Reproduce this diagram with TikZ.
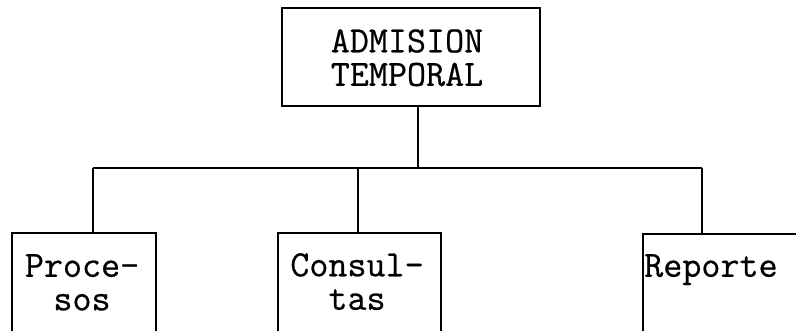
\documentclass[tikz,border=0pt]{standalone}
\usepackage{fontspec}
\newfontfamily\boxtt{Latin Modern Mono}[FakeBold=0.6]
\begin{document}
\begin{tikzpicture}[x=1pt,y=-1pt,
  boxst/.style={draw=black, line width=1.8pt, rectangle, inner sep=0pt, anchor=north west},
  lbl/.style={inner sep=0pt, font=\boxtt\fontsize{37}{33.5}\selectfont, align=center},
  wire/.style={draw=black, line width=1.8pt}]
\clip (0,0) rectangle (796,331);
\fill[white] (0,0) rectangle (796,331);
% boxes
\node[boxst, minimum width=258pt, minimum height=98pt] (top) at (281,7) {};
\node[boxst, minimum width=144pt, minimum height=130pt] (proc) at (11,232) {};
\node[boxst, minimum width=163pt, minimum height=130pt] (cons) at (277,232) {};
\node[boxst, minimum width=180pt, minimum height=130pt] (rep) at (642,233) {};
% labels
\node[lbl, anchor=north] (tl) at (407,29) {ADMISION\\TEMPORAL};
\node[lbl, anchor=north] (pl) at (82,254) {Proce-\\sos};
\node[lbl, anchor=north] (cl) at (357,253) {Consul-\\tas};
\node[lbl, anchor=north west] (rl) at (644,254) {Reporte};
% bus
\coordinate (j) at (418,168);
\coordinate (b1) at (93,168);
\coordinate (b2) at (358,168);
\coordinate (b3) at (702,168);
\draw[wire] (top.south -| j) -- (j);
\draw[wire] (b1) -- (b3);
\draw[wire] (b1) -- (b1 |- proc.north);
\draw[wire] (b2) -- (b2 |- cons.north);
\draw[wire] (b3) -- (b3 |- rep.north);
\end{tikzpicture}
\end{document}
